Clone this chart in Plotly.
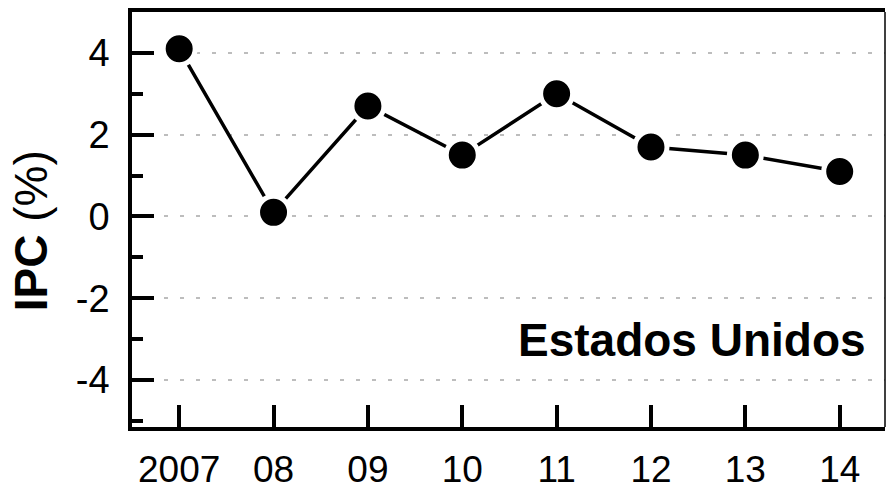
import plotly.graph_objects as go

years = [2007, 2008, 2009, 2010, 2011, 2012, 2013, 2014]
tick_labels = ["2007", "08", "09", "10", "11", "12", "13", "14"]
ipc = [4.1, 0.1, 2.7, 1.5, 3.0, 1.7, 1.5, 1.1]
y_ticks = [-4, -2, 0, 2, 4]
y_tick_labels = ["-4", "-2", "0", "2", "4"]
country = "Estados Unidos"

FONT = "Liberation Sans, Arial, sans-serif"

fig = go.Figure()
fig.add_trace(go.Scatter(
    x=years, y=ipc, mode="lines+markers",
    line=dict(color="black", width=3.5),
    marker=dict(color="black", size=32, line=dict(color="white", width=5)),
    cliponaxis=False,
    showlegend=False,
))

fig.update_layout(
    width=886, height=492,
    margin=dict(l=132, r=1, t=12, b=65),
    paper_bgcolor="white", plot_bgcolor="white",
    font=dict(family=FONT, color="black"),
    xaxis=dict(
        range=[2006.5, 2014.48],
        tickvals=years, ticktext=tick_labels,
        ticks="inside", ticklen=22, tickwidth=3.5, tickcolor="black",
        showline=True, linewidth=3.5, linecolor="black", mirror=True,
        showgrid=False, zeroline=False,
        tickfont=dict(size=37, family=FONT, color="black"),
        ticklabelstandoff=7,
    ),
    yaxis=dict(
        range=[-5.15, 5],
        tickvals=y_ticks, ticktext=y_tick_labels,
        ticks="inside", ticklen=22, tickwidth=3.5, tickcolor="black",
        showline=True, linewidth=3.5, linecolor="black", mirror=False,
        showgrid=True, gridcolor="#bdbdbd", gridwidth=2, griddash="4px,12px",
        zeroline=False,
        minor=dict(tick0=1, dtick=2, ticks="inside", ticklen=11, tickwidth=3.5,
                   tickcolor="black", showgrid=False),
        tickfont=dict(size=38, family=FONT, color="black"),
        ticklabelstandoff=11,
    ),
    shapes=[dict(type="line", xref="paper", yref="paper", x0=1, x1=1, y0=0, y1=1,
                 line=dict(color="black", width=1.5))],
    annotations=[
        dict(text="<b>" + country + "</b>", xref="paper", yref="y",
             x=0.977, y=-3.03, xanchor="right", yanchor="middle",
             showarrow=False, font=dict(size=46, family=FONT, color="black")),
        dict(text="<b>IPC</b> (%)", xref="paper", yref="paper",
             x=-0.134, y=0.472, xanchor="center", yanchor="middle",
             textangle=-90, showarrow=False,
             font=dict(size=46, family=FONT, color="black")),
    ],
)

fig.write_html("out.html", config={"displayModeBar": False})
with open("out.html", "r", encoding="utf-8") as f:
    html = f.read()
html = html.replace("<head>", "<head><style>html,body{margin:0;padding:0;overflow:hidden;}</style>", 1)
with open("out.html", "w", encoding="utf-8") as f:
    f.write(html)
